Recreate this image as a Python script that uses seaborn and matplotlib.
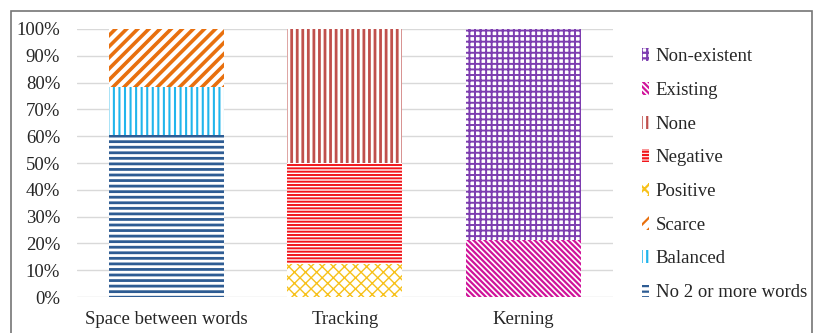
import matplotlib
matplotlib.use("Agg")
import matplotlib.pyplot as plt
import seaborn as sns
import pandas as pd
from matplotlib.patches import Patch, Rectangle
from matplotlib.ticker import PercentFormatter

# categories on the x axis
categories = ["Space between words", "Tracking", "Kerning"]

# series, stacked from bottom to top
series = ["No 2 or more words", "Balanced", "Scarce", "Positive",
          "Negative", "None", "Existing", "Non-existent"]

# share (%) of each series per category
no_words = [60.5, 0, 0]
balanced = [18.0, 0, 0]
scarce = [21.5, 0, 0]
positive = [0, 12.5, 0]
negative = [0, 37.5, 0]
none = [0, 50.0, 0]
existing = [0, 0, 21.4]
non_existent = [0, 0, 78.6]

values = [no_words, balanced, scarce, positive, negative, none, existing, non_existent]
colors = ["#2E5C93", "#21B5EC", "#E8700E", "#F7C11A", "#F2161B", "#C0504D", "#D0139A", "#7D3DB0"]
hatches = ["---", "|||", "///", "xxx", "-----", "|||", "\\" * 6, "+++"]
hatch_lw = [2.0, 1.5, 2.6, 1.0, 1.4, 2.0, 1.6, 1.4]

sns.set_style("white")
plt.rcParams["font.family"] = ["Liberation Serif", "DejaVu Serif"]
plt.rcParams["hatch.linewidth"] = 1.6

fig = plt.figure(figsize=(8.17, 3.33), dpi=100)
ax = fig.add_axes([0.094, 0.108, 0.656, 0.805])

bottom = [0, 0, 0]
handles = []
for name, vals, col, hat, hlw in zip(series, values, colors, hatches, hatch_lw):
    df = pd.DataFrame({"category": categories, "value": vals})
    n_before = len(ax.patches)
    sns.barplot(data=df, x="category", y="value", order=categories, ax=ax,
                bottom=bottom, color="white", edgecolor=col, hatch=hat,
                linewidth=0, width=0.645, errorbar=None)
    handle = Patch(facecolor="white", edgecolor=col, hatch=hat, linewidth=0, label=name)
    for p in ax.patches[n_before:] + [handle]:
        if hasattr(p, "set_hatch_linewidth"):
            p.set_hatch_linewidth(hlw)
    bottom = [b + v for b, v in zip(bottom, vals)]
    handles.append(handle)

ax.set_ylim(0, 100)
ax.set_xlim(-0.5, 2.5)
ax.set_yticks(range(0, 101, 10))
ax.yaxis.set_major_formatter(PercentFormatter(decimals=0))
ax.set_xlabel("")
ax.set_ylabel("")
ax.grid(axis="y", color="#D9D9D9", linewidth=1)
ax.set_axisbelow(True)
sns.despine(ax=ax, left=True, bottom=True)
ax.tick_params(axis="both", length=0, labelsize=13.5, colors="#262626")
ax.tick_params(axis="x", pad=10)
ax.tick_params(axis="y", pad=12)

leg = ax.legend(handles=handles[::-1], loc="center left", bbox_to_anchor=(1.04, 0.457),
                frameon=False, fontsize=13.5, handlelength=0.4, handleheight=0.7,
                handletextpad=0.35, labelspacing=0.88, borderaxespad=0)
for t in leg.get_texts():
    t.set_color("#262626")

# border around the whole chart
fig.patches.append(Rectangle((11 / 817, -0.05), 801 / 817, 1.05 - 11 / 333,
                             transform=fig.transFigure, fill=False,
                             edgecolor="#767676", linewidth=1.2))

fig.savefig("out.png", dpi=100)
